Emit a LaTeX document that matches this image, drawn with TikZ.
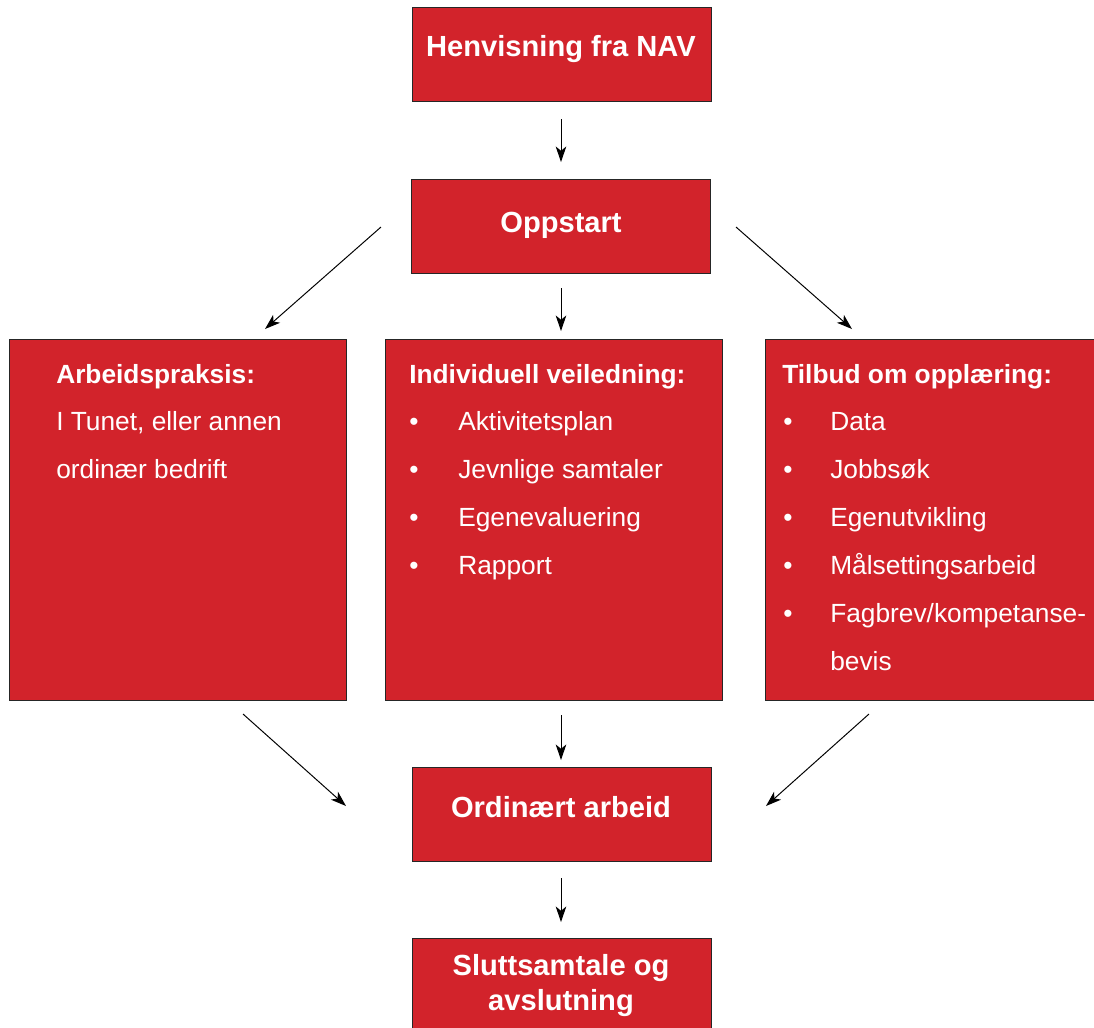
\documentclass[tikz,border=0pt]{standalone}
\usepackage{fontspec}
\setmainfont{Liberation Sans}
\usepackage{tikz}
\usetikzlibrary{arrows.meta}
\newcommand{\px}{0.025cm}
\newcommand{\rowSkip}{48}
\definecolor{navRed}{RGB}{210,35,43}

\begin{document}
\begin{tikzpicture}[x=\px,y=-\px,
  box/.style={draw=black!85,line width=0.9pt,fill=navRed,inner sep=0pt,anchor=north west},
  small/.style={box,minimum width=299*\px,minimum height=94*\px},
  big/.style={box,minimum height=361*\px},
  title/.style={text=white,font=\fontsize{20.7}{25}\selectfont\bfseries,anchor=base,inner sep=0pt},
  head/.style={text=white,font=\fontsize{18.7}{22}\selectfont\bfseries,anchor=base west,inner sep=0pt},
  item/.style={text=white,font=\fontsize{18.7}{22}\selectfont,anchor=base west,inner sep=0pt},
  pil/.style={-{Stealth[length=11pt,width=7.5pt,inset=3pt]},line width=0.7pt}]
\useasboundingbox (0,0) rectangle (1094,1028);
\clip (0,0) rectangle (1094,1028);

\node[small] (nav) at (412,7) {};
\node[small] (opp) at (411,179) {};
\node[big,minimum width=337*\px] (prak) at (9,339) {};
\node[big,minimum width=337*\px] (veil) at (385,339) {};
\node[big,minimum width=340*\px] (opl) at (765,339) {};
\node[small] (ord) at (412,767) {};
\node[small] (slutt) at (412,938) {};

\node[title] (navT) at (561,56) {Henvisning fra NAV};
\node[title] (oppT) at (561,232) {Oppstart};
\node[title] (ordT) at (561,817) {Ordinært arbeid};
\node[title] (sluttA) at (561,975) {Sluttsamtale og};
\node[title] (sluttB) at (561,1010) {avslutning};

\node[head] (prakH) at (56,383) {Arbeidspraksis:};
\node[item] (prak1) at (56,430) {I Tunet, eller annen};
\node[item] (prak2) at (56,478) {ordinær bedrift};

\node[head] (veilH) at (409,383) {Individuell veiledning:};
\foreach \t [count=\i] in {Aktivitetsplan,Jevnlige samtaler,Egenevaluering,Rapport}{
  \node[item] (veilB\i) at (409,382+\i*\rowSkip) {•};
  \node[item] (veil\i) at (458,382+\i*\rowSkip) {\t};
}

\node[head] (oplH) at (782,383) {Tilbud om opplæring:};
\foreach \t [count=\i] in {Data,Jobbsøk,Egenutvikling,Målsettingsarbeid,Fagbrev/kompetanse-}{
  \node[item] (oplB\i) at (783,382+\i*\rowSkip) {•};
  \node[item] (opl\i) at (830,382+\i*\rowSkip) {\t};
}
\node[item] (opl6) at (830,670) {bevis};

\coordinate (oppW) at (381,227);
\coordinate (oppE) at (736,227);
\coordinate (prakS) at (243,714);
\coordinate (oplS) at (869,714);
\coordinate (ordW) at (346,806);
\coordinate (ordE) at (766,806);

\draw[pil,shorten <=17*\px,shorten >=17*\px] (nav.south -| navT) -- (opp.north -| navT);
\draw[pil] (oppW) -- (265,329);
\draw[pil,shorten <=14*\px,shorten >=8*\px] (opp.south -| navT) -- (veil.north -| navT);
\draw[pil] (oppE) -- (852,329);
\draw[pil] (prakS) -- (ordW);
\draw[pil,shorten <=14*\px,shorten >=7*\px] (veil.south -| navT) -- (ord.north -| navT);
\draw[pil] (oplS) -- (ordE);
\draw[pil,shorten <=16*\px,shorten >=16*\px] (ord.south -| navT) -- (slutt.north -| navT);
\end{tikzpicture}
\end{document}
